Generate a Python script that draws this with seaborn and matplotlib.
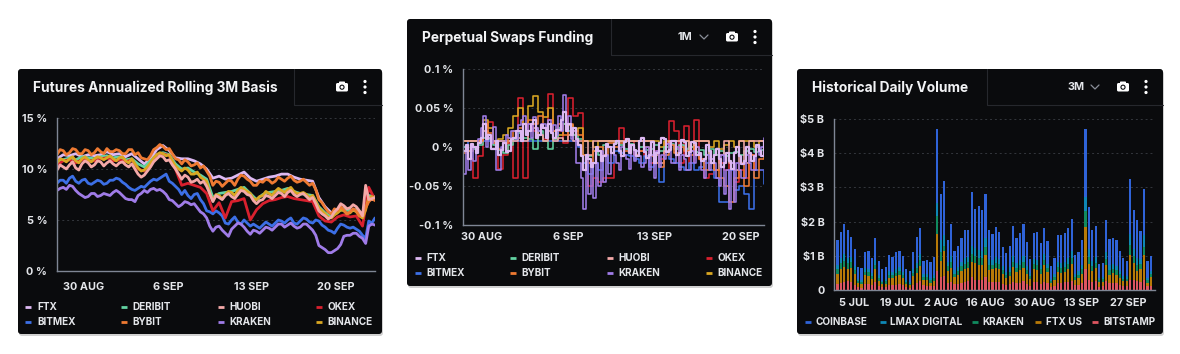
import matplotlib
matplotlib.use("Agg")
import matplotlib.pyplot as plt
import numpy as np
import pandas as pd
import seaborn as sns
from matplotlib.patches import Circle, FancyBboxPatch

WIDTH, HEIGHT = 1180, 354

PANEL = "#0A0B0D"
TEXT = "#E4E6EA"
AXIS = "#7F8694"
GRID = "#34373D"

COLORS = {
    "FTX": "#DDB9F2",
    "DERIBIT": "#62D3A2",
    "HUOBI": "#F4A9A8",
    "OKEX": "#D8202E",
    "BITMEX": "#3C6FE6",
    "BYBIT": "#EE7A32",
    "KRAKEN": "#A07CE8",
    "BINANCE": "#D9A722",
}
VOLUME_COLORS = {
    "COINBASE": "#2F63D8",
    "LMAX DIGITAL": "#0E87B5",
    "KRAKEN": "#108A5E",
    "FTX US": "#B87A08",
    "BITSTAMP": "#DD5560",
}

# Futures basis, %
basis_ftx = [
    11.0, 11.4, 11.3, 11.5, 11.2, 11.4, 11.3, 11.4, 11.7, 11.4,
    11.5, 11.2, 11.5, 11.0, 10.5, 11.0, 11.9, 12.3, 11.8, 11.1,
    11.0, 11.0, 10.8, 10.5, 10.0, 9.1, 9.3, 9.0, 9.1, 9.4,
    9.7, 9.1, 8.8, 9.0, 9.2, 9.3, 9.5, 9.5, 9.2, 9.0,
    8.9, 8.8, 7.2, 6.3, 5.7, 6.0, 6.1, 5.9, 6.0, 5.6,
    7.0, 7.0,
]
basis_deribit = [
    10.7, 10.9, 11.1, 10.9, 11.2, 11.1, 11.0, 11.2, 11.3, 11.1,
    11.2, 10.9, 11.0, 10.5, 10.2, 10.8, 11.4, 11.6, 11.4, 10.5,
    10.0, 10.1, 9.7, 9.4, 9.0, 7.2, 7.6, 7.7, 7.8, 8.0,
    8.2, 7.6, 7.0, 7.5, 7.7, 7.8, 7.9, 8.1, 7.8, 7.6,
    7.5, 7.4, 6.3, 5.7, 5.3, 5.8, 6.1, 5.9, 6.0, 5.4,
    7.4, 7.3,
]
basis_okex = [
    10.4, 10.8, 10.9, 10.6, 10.9, 10.8, 10.8, 11.0, 11.1, 10.8,
    10.9, 10.7, 10.9, 10.0, 9.8, 10.5, 11.4, 11.5, 11.3, 10.0,
    8.4, 8.6, 8.4, 8.2, 7.6, 5.9, 6.7, 5.2, 6.8, 6.9,
    7.1, 5.0, 6.0, 6.6, 6.9, 7.0, 7.2, 7.3, 7.1, 7.0,
    6.9, 6.8, 5.4, 4.9, 4.8, 5.3, 5.5, 5.3, 5.4, 4.4,
    8.2, 7.0,
]
basis_huobi = [
    9.9, 10.4, 10.2, 10.0, 10.4, 10.7, 10.1, 9.9, 10.5, 10.8,
    10.6, 10.2, 10.4, 10.8, 10.7, 10.3, 10.6, 10.8, 10.5, 10.3,
    10.6, 10.7, 10.4, 10.2, 10.5, 10.0, 9.5, 9.2, 9.4, 9.8,
    10.2, 10.7, 11.0, 11.3, 11.2, 10.8, 10.9, 10.4, 10.0, 9.5,
    9.0, 9.4, 9.2, 8.7, 8.8, 9.0, 8.6, 8.8, 8.3, 7.6,
    6.8, 7.4, 7.2, 7.0, 7.4, 7.6, 7.3, 7.1, 7.5, 7.9,
    7.8, 7.5, 7.4, 6.9, 6.6, 6.9, 7.0, 7.4, 7.3, 7.1,
    7.4, 7.7, 7.6, 7.3, 7.7, 7.9, 7.5, 7.3, 7.5, 7.6,
    7.3, 7.0, 7.2, 6.6, 5.9, 5.6, 5.4, 5.1, 5.3, 5.8,
    6.1, 6.6, 6.4, 6.1, 6.2, 6.5, 6.3, 5.9, 5.4, 8.4,
    7.0, 7.1, 7.2,
]
basis_bitmex = [
    8.6, 8.9, 8.9, 8.6, 9.1, 9.3, 8.8, 8.6, 8.9, 9.0,
    8.6, 8.5, 8.7, 8.9, 8.8, 8.5, 8.6, 8.9, 8.9, 9.1,
    9.0, 8.7, 8.5, 8.2, 8.0, 7.9, 8.1, 8.3, 8.2, 8.5,
    8.8, 9.0, 8.9, 9.1, 9.3, 9.5, 8.8, 8.6, 8.3, 8.0,
    7.5, 7.9, 7.4, 7.1, 7.5, 7.6, 7.0, 6.6, 5.9, 5.8,
    5.6, 5.9, 5.7, 5.4, 4.7, 4.6, 5.0, 5.3, 4.8, 4.6,
    5.0, 4.7, 4.4, 4.6, 4.4, 4.2, 4.5, 4.8, 4.6, 4.4,
    4.7, 5.0, 4.9, 4.7, 5.0, 5.2, 4.7, 4.6, 4.9, 5.2,
    5.1, 4.8, 4.7, 5.0, 4.9, 4.5, 4.3, 4.0, 3.9, 3.7,
    4.2, 4.6, 4.5, 4.3, 4.2, 4.3, 4.1, 3.9, 3.5, 3.2,
    4.9, 4.7, 5.2,
]
basis_bybit = [
    11.4, 11.9, 11.8, 11.4, 11.6, 12.0, 11.9, 11.5, 11.5, 11.9,
    11.8, 11.4, 11.6, 12.0, 11.7, 11.5, 12.0, 11.7, 11.7, 11.9,
    11.8, 11.5, 11.5, 11.9, 11.9, 11.4, 11.6, 11.1, 11.0, 10.9,
    11.3, 11.9, 12.1, 12.4, 12.2, 11.9, 12.0, 11.5, 11.0, 10.9,
    10.5, 10.9, 10.7, 10.3, 10.4, 10.6, 10.1, 10.3, 9.8, 9.3,
    8.4, 8.8, 8.7, 8.3, 8.6, 8.9, 8.8, 8.4, 9.0, 9.4,
    9.3, 9.0, 8.8, 8.4, 8.4, 8.8, 8.7, 9.0, 8.9, 8.6,
    8.8, 9.2, 9.0, 8.8, 9.1, 9.3, 8.9, 8.7, 8.8, 9.0,
    8.7, 8.4, 8.6, 8.0, 7.0, 6.7, 6.2, 5.8, 5.6, 6.1,
    5.9, 6.3, 6.0, 5.6, 5.8, 6.1, 5.9, 5.4, 5.5, 6.2,
    6.8, 7.1, 6.9,
]
basis_kraken = [
    7.9, 8.1, 8.2, 8.0, 8.4, 8.3, 7.9, 7.6, 7.4, 7.2,
    7.3, 7.6, 7.6, 7.3, 7.4, 7.6, 7.5, 7.4, 7.7, 7.9,
    7.7, 7.4, 7.1, 7.0, 7.0, 6.8, 7.4, 7.6, 7.9, 7.7,
    8.0, 8.1, 7.9, 8.0, 7.8, 7.5, 7.0, 6.9, 6.6, 6.3,
    6.5, 6.8, 6.7, 6.5, 6.6, 6.2, 5.8, 5.6, 5.2, 4.4,
    3.9, 4.3, 4.4, 4.0, 3.7, 3.4, 4.1, 4.4, 4.7, 4.6,
    4.3, 3.9, 3.6, 4.0, 3.9, 3.7, 4.0, 4.3, 4.2, 4.0,
    4.3, 4.6, 4.6, 4.3, 4.5, 4.7, 4.4, 4.2, 4.3, 4.6,
    4.6, 4.3, 4.0, 3.5, 2.5, 2.3, 2.1, 1.8, 1.8, 2.0,
    2.2, 2.6, 3.4, 3.5, 3.5, 3.7, 3.7, 3.4, 3.2, 2.7,
    4.4, 4.6, 4.5,
]
basis_binance = [
    10.6, 11.0, 10.9, 10.7, 11.0, 11.2, 10.8, 10.6, 11.0, 11.2,
    10.9, 10.7, 11.0, 11.2, 11.1, 10.9, 11.1, 11.3, 11.0, 10.8,
    11.1, 11.2, 10.8, 10.6, 11.0, 10.5, 10.1, 9.8, 9.9, 10.2,
    10.6, 11.1, 11.4, 11.6, 11.5, 11.3, 11.4, 10.8, 10.3, 10.0,
    9.8, 10.1, 9.9, 9.5, 9.5, 9.7, 9.2, 9.0, 8.8, 7.6,
    6.9, 7.5, 7.4, 7.1, 7.5, 7.8, 7.7, 7.4, 7.9, 8.2,
    8.0, 7.8, 7.6, 7.1, 7.0, 7.3, 7.4, 7.8, 7.6, 7.4,
    7.8, 8.1, 7.9, 7.7, 8.0, 8.2, 7.8, 7.6, 7.6, 7.7,
    7.5, 7.2, 7.4, 6.8, 6.2, 5.9, 5.6, 5.3, 5.2, 5.5,
    5.7, 6.0, 5.9, 5.6, 5.7, 6.0, 5.8, 5.4, 5.2, 6.0,
    7.2, 7.3, 7.1,
]

# Perpetual funding, %
funding_ftx = [
    -.005, .002, -.015, .004, .0, -.008, .005, .012, .03, .01,
    .015, -.002, -.002, .008, -.01, -.004, .005, -.006, -.005, .01,
    .012, .02, .02, .008, .03, .015, .02, .03, .035, .012,
    .015, .028, .025, .012, .03, .018, .012, .022, .022, .035,
    .045, .02, .03, .015, .025, .01, .002, -.012, -.03, -.01,
    -.015, -.025, -.02, .0, -.005, -.018, -.012, .004, .0, -.008,
    .004, .008, -.005, -.012, .006, .01, -.008, .002, -.004, -.012,
    .008, .011, -.006, -.014, -.01, .006, -.02, -.008, .005, .012,
    .01, -.006, -.004, .008, .008, -.01, -.008, .009, .006, -.012,
    -.006, .007, .005, -.01, -.008, -.018, -.015, .002, -.005, -.02,
    -.01, -.002, -.015, -.025, -.02, -.008, -.018, -.028, -.008, .0,
    -.012, -.022, -.018, .0, -.008, -.018, -.012, .002, -.005, -.012,
    .008,
]
funding_deribit = [
    .0, -.005, -.002, .003, .012, .01, .002, -.004, -.008, .003,
    .01, .018, .012, .01, -.002, .02, .008, -.003, .01, .025,
    .03, .02, .015, .01, -.01, -.012, -.005, -.01, .002, .0,
    .005, .003, -.002, .004, -.005, .0, -.004, -.002, .003, -.005,
    .0, .004, -.003, .002, -.002, .0, -.006, -.004, -.01, -.002,
    -.01, -.005, -.012, -.008, -.006, -.01, -.005, -.003, -.006, -.004,
    -.002,
]
funding_huobi = [
    .008, .008, .008, .008, .02, .012, .008, .008, .008, .008,
    .008, .012, .008, .02, .025, .015, .008, .02, .008, .012,
    .008, .015, .008, .008, .008, -.01, .008, .008, .008, .008,
    .008, .008, .008, .008, .008, .008, .008, .008, -.01, -.02,
    -.005, .008, .008, .008, .008, -.005, .008, .008, .008, -.015,
    -.03, -.01, .008, -.02, -.03, .008, -.02, .008, .008, .008,
    .008,
]
funding_okex = [
    -.005, -.015, -.04, -.012, .03, .032, .005, -.028, -.01, .005,
    -.04, .063, -.04, .03, .02, .015, .01, .068, .01, .02,
    .005, .063, .04, .043, -.03, -.05, -.04, -.045, -.04, -.04,
    .005, .025, .01, .008, -.01, -.005, -.012, -.02, -.005, -.015,
    .005, .033, .02, -.02, .027, -.02, .034, -.015, -.04, -.035,
    -.01, -.02, -.03, -.02, -.045, -.03, -.04, -.01, -.03, -.03,
    -.032,
]
funding_bitmex = [
    .0, .008, .008, .008, .008, .008, .008, .008, .008, .008,
    .008, .008, .008, .008, .008, .008, .008, .008, .008, .008,
    .008, .008, .008, .0, -.02, -.035, -.02, -.03, -.01, -.02,
    -.005, -.008, -.01, -.012, -.015, -.02, -.012, -.025, -.02, -.045,
    -.01, -.015, -.02, -.025, -.03, -.02, -.03, -.025, -.02, -.03,
    -.04, -.07, -.07, -.03, -.055, -.05, -.06, -.08, -.03, -.03,
    -.047,
]
funding_bybit = [
    -.008, -.005, .0, .008, .03, .018, .005, -.002, .005, .012,
    .02, .025, .03, .035, .03, .04, .025, .035, .02, .03,
    .015, .03, .02, .015, -.01, -.02, -.005, .0, -.01, .005,
    .0, .005, -.005, .003, -.01, -.005, .0, -.012, -.02, -.025,
    -.01, .003, -.008, .0, -.005, -.01, .0, -.015, -.03, -.02,
    -.03, -.04, -.05, -.07, -.04, -.02, -.05, -.01, -.04, -.015,
    -.01,
]
funding_kraken = [
    -.035, -.005, -.03, .0, -.018, .0, .01, .025, .04, .0,
    .012, .005, .026, -.03, -.03, .0, .005, .015, .012, .02,
    .02, .01, .028, .035, .04, .015, .03, .012, .038, .025,
    .02, .03, .03, .012, .035, .02, .028, .015, .04, .02,
    .067, .02, .04, .01, .02, -.02, -.02, -.04, -.08, -.01,
    -.06, -.02, -.065, -.02, -.05, -.005, -.045, -.01, -.035, .0,
    -.01, -.02, -.03, .0, -.01, -.015, -.028, .002, -.018, -.005,
    -.012, -.025, -.02, .0, -.03, -.01, -.04, -.005, -.025, -.01,
    -.015, .004, -.005, -.02, -.02, .0, -.03, -.01, -.015, -.03,
    -.03, -.005, -.02, .0, -.01, -.03, -.04, -.01, -.03, -.015,
    -.02, -.04, -.05, -.01, -.06, -.03, -.08, -.02, -.07, -.02,
    -.03, -.04, -.04, -.01, -.02, -.03, -.03, .0, -.01, .0,
    .012,
]
funding_binance = [
    .008, .008, .008, .008, .035, .025, .008, .01, .015, .025,
    .04, .05, .03, .052, .066, .045, .038, .05, .02, .015,
    .03, .028, .02, .025, .008, .008, .0, .008, .008, .008,
    .008, .008, .008, .008, .008, .008, .008, .008, .008, .0,
    .008, .008, .008, .008, .008, .0, .008, .008, .008, .0,
    .008, -.002, .002, .008, .0, .008, .008, .008, .0, .008,
    .008,
]

# Daily volume, $B
volume_total = [
    1.45, 1.7, 1.93, 1.75, 1.55, 1.2, .67, .64, 1.1, 1.13,
    .95, 1.52, .85, .6, .67, 1.03, .97, 1.1, 1.15, 1.0,
    .6, .55, 1.1, 1.55, 1.8, .85, .88, .82, .97, 4.7,
    2.8, 3.2, 1.45, 1.93, 1.13, 1.3, 1.52, 1.75, 1.75, 2.88,
    2.38, 2.47, 2.35, 2.82, 1.75, 1.63, 1.83, 1.7, 1.25, 1.08,
    1.3, 1.88, 1.53, 1.67, 1.92, 1.4, .9, 1.67, 1.7, 1.38,
    1.8, 1.42, .7, .95, 1.6, 1.6, 1.67, 1.82, 2.07, 1.02,
    1.1, 1.45, 4.72, 2.42, 1.75, 1.88, .75, .78, 2.05, 1.48,
    1.52, 1.45, 1.15, .93, .85, 3.25, 2.35, 2.05, 1.73, 2.95,
    .85, 1.0,
]
volume_bitstamp = [
    .18, .20, .23, .25, .22, .16, .08, .07, .19, .18,
    .15, .22, .13, .08, .09, .15, .14, .16, .17, .15,
    .08, .07, .14, .21, .25, .14, .13, .11, .13, .55,
    .38, .42, .20, .23, .18, .19, .20, .24, .25, .37,
    .30, .30, .28, .38, .24, .22, .23, .24, .17, .14,
    .17, .24, .20, .21, .26, .18, .13, .22, .22, .19,
    .24, .20, .09, .13, .21, .21, .22, .24, .27, .14,
    .15, .20, .60, .30, .23, .25, .10, .11, .27, .20,
    .21, .20, .16, .12, .11, .30, .30, .26, .24, .30,
    .11, .13,
]
volume_ftx_us = [
    .28, .42, .43, .35, .42, .30, .12, .10, .25, .23,
    .17, .38, .14, .09, .10, .20, .20, .24, .26, .20,
    .10, .07, .26, .28, .46, .16, .17, .10, .14, 1.10,
    .48, .73, .35, .42, .20, .25, .35, .37, .40, .45,
    .50, .42, .45, .65, .35, .38, .40, .38, .30, .20,
    .25, .43, .32, .37, .38, .28, .20, .40, .36, .29,
    .50, .32, .12, .17, .33, .29, .30, .36, .50, .16,
    .20, .27, 1.25, .47, .32, .38, .12, .13, .46, .25,
    .28, .25, .20, .13, .14, .73, .48, .30, .37, .72,
    .09, .24,
]
volume_kraken = [
    .14, .18, .20, .18, .17, .13, .06, .05, .10, .11,
    .10, .14, .08, .05, .06, .10, .10, .11, .12, .10,
    .05, .05, .10, .15, .16, .08, .08, .07, .09, .50,
    .25, .15, .14, .17, .10, .12, .14, .16, .16, .22,
    .20, .22, .20, .23, .15, .14, .16, .15, .11, .10,
    .12, .16, .13, .15, .17, .12, .08, .14, .15, .12,
    .15, .12, .06, .09, .14, .14, .15, .16, .18, .09,
    .10, .13, .45, .20, .15, .16, .07, .07, .18, .13,
    .13, .13, .10, .08, .08, .30, .20, .18, .15, .25,
    .08, .09,
]
volume_lmax = [
    .13, .15, .20, .17, .15, .12, .07, .06, .10, .10,
    .08, .14, .08, .05, .06, .10, .09, .10, .11, .09,
    .05, .05, .10, .14, .17, .08, .08, .07, .09, .40,
    .35, .30, .13, .17, .10, .12, .14, .16, .16, .25,
    .22, .22, .20, .25, .16, .15, .17, .15, .11, .10,
    .12, .17, .14, .15, .17, .13, .08, .15, .15, .13,
    .16, .13, .06, .09, .15, .15, .15, .17, .19, .09,
    .10, .13, .42, .22, .16, .17, .07, .07, .19, .14,
    .14, .13, .10, .09, .08, .32, .22, .19, .16, .33,
    .08, .09,
]

week_ticks = ["2021-08-30", "2021-09-06", "2021-09-13", "2021-09-20"]
week_labels = ["30 AUG", "6 SEP", "13 SEP", "20 SEP"]
basis_yticks = [0, 5, 10, 15]
basis_ylabels = ["0 %", "5 %", "10 %", "15 %"]
funding_yticks = [-0.1, -0.05, 0, 0.05, 0.1]
funding_ylabels = ["-0.1 %", "-0.05 %", "0 %", "0.05 %", "0.1 %"]
volume_yticks = [0, 1, 2, 3, 4, 5]
volume_ylabels = ["0", "$1 B", "$2 B", "$3 B", "$4 B", "$5 B"]
volume_tick_pos = [4.85, 17.35, 30.1, 43, 57.1, 70.9, 84.5]
volume_tick_labels = ["5 JUL", "19 JUL", "2 AUG", "16 AUG", "30 AUG", "13 SEP", "27 SEP"]


def add_axes(fig, left, top, right, bottom):
    ax = fig.add_axes([left / WIDTH, 1 - bottom / HEIGHT, (right - left) / WIDTH, (bottom - top) / HEIGHT])
    ax.set_facecolor("none")
    return ax


def style_axes(ax, xpad):
    ax.grid(False)
    ax.yaxis.grid(True, color=GRID, linewidth=0.7, linestyle=(0, (2, 3)))
    ax.set_axisbelow(True)
    sns.despine(ax=ax)
    for side in ["left", "bottom"]:
        ax.spines[side].set_color(AXIS)
        ax.spines[side].set_linewidth(1.0)
    ax.tick_params(axis="both", colors=AXIS, length=3, width=0.8, pad=4, labelsize=7.8, labelcolor=TEXT)
    ax.tick_params(axis="x", pad=xpad)
    for label in ax.get_xticklabels() + ax.get_yticklabels():
        label.set_fontweight("bold")
    ax.set_xlabel("")
    ax.set_ylabel("")


def draw_panel(bg, left, top, right, bottom, title, divider, picker=None):
    bg.add_patch(FancyBboxPatch((left + 1, top + 2), right - left, bottom - top,
                                boxstyle="round,pad=0,rounding_size=3", fc="#000000", ec="none", alpha=0.18))
    bg.add_patch(FancyBboxPatch((left, top), right - left, bottom - top,
                                boxstyle="round,pad=0,rounding_size=3", fc=PANEL, ec="none"))
    head = top + 36
    bg.plot([divider, divider, right], [top, head, head], color="#26282D", lw=0.8)
    bg.text(left + 15, top + 19, title, color="#F2F3F5", fontsize=9.9, fontweight="bold", va="center")

    cam = right - 40
    dots = right - 17
    bg.add_patch(FancyBboxPatch((cam - 6, top + 14), 12, 8.5, boxstyle="round,pad=0,rounding_size=1.5", fc="white", ec="none"))
    bg.add_patch(FancyBboxPatch((cam - 3, top + 12.5), 6, 3, boxstyle="round,pad=0,rounding_size=0.8", fc="white", ec="none"))
    bg.add_patch(Circle((cam, top + 18.2), 2.6, fc=PANEL, ec="none"))
    bg.add_patch(Circle((cam, top + 18.2), 1.5, fc="white", ec="none"))
    for offset in [12.5, 18, 23.5]:
        bg.add_patch(Circle((dots, top + offset), 1.6, fc="white", ec="none"))
    if picker:
        bg.text(right - 87, top + 18, picker, color=TEXT, fontsize=7.8, fontweight="bold", ha="center", va="center")
        bg.plot([right - 72, right - 68, right - 64], [top + 16, top + 20, top + 16], color="#8A8F99", lw=0.9)


def draw_legend(bg, entries, colors):
    for name, x, y, text_x in entries:
        bg.plot([x, x + 6], [y, y], color=colors[name], lw=2, solid_capstyle="butt")
        bg.text(text_x, y, name, color=TEXT, fontsize=7.2, fontweight="bold", va="center")


def draw_lines(ax, series, start, end, linewidth, **kwargs):
    # each exchange has its own sampling, spread over the same time span
    for name, values in series:
        times = pd.date_range(start, end, periods=len(values))
        sns.lineplot(x=times, y=values, color=COLORS[name], linewidth=linewidth,
                     errorbar=None, estimator=None, ax=ax, **kwargs)


def draw_basis(fig):
    ax = add_axes(fig, 57, 118, 375, 271)
    series = [
        ("FTX", basis_ftx), ("DERIBIT", basis_deribit), ("BITMEX", basis_bitmex), ("KRAKEN", basis_kraken),
        ("OKEX", basis_okex), ("BINANCE", basis_binance), ("BYBIT", basis_bybit), ("HUOBI", basis_huobi),
    ]
    draw_lines(ax, series, "2021-08-27 18:00", "2021-09-23 06:00", 2.0)
    ax.set_xlim(pd.Timestamp("2021-08-27 18:00"), pd.Timestamp("2021-09-23 06:00"))
    ax.set_ylim(0, 15)
    ax.set_xticks(pd.to_datetime(week_ticks))
    ax.set_xticklabels(week_labels)
    ax.set_yticks(basis_yticks)
    ax.set_yticklabels(basis_ylabels)
    style_axes(ax, 5)


def draw_funding(fig):
    ax = add_axes(fig, 463, 69, 764, 225)
    series = [
        ("OKEX", funding_okex), ("BITMEX", funding_bitmex), ("BINANCE", funding_binance), ("DERIBIT", funding_deribit),
        ("HUOBI", funding_huobi), ("BYBIT", funding_bybit), ("KRAKEN", funding_kraken),
    ]
    draw_lines(ax, series, "2021-08-28 12:00", "2021-09-21 22:00", 1.15, drawstyle="steps-post")
    draw_lines(ax, [("FTX", funding_ftx)], "2021-08-28 12:00", "2021-09-21 22:00", 1.6, drawstyle="steps-post")
    ax.set_xlim(pd.Timestamp("2021-08-28 12:00"), pd.Timestamp("2021-09-21 22:00"))
    ax.set_ylim(-0.1, 0.1)
    ax.set_xticks(pd.to_datetime(week_ticks))
    ax.set_xticklabels(week_labels)
    ax.set_yticks(funding_yticks)
    ax.set_yticklabels(funding_ylabels)
    style_axes(ax, 2)


def draw_volume(fig):
    ax = add_axes(fig, 834, 119, 1155, 290)
    bars = np.arange(len(volume_total))
    bitstamp = np.array(volume_bitstamp)
    ftx_us = bitstamp + np.array(volume_ftx_us)
    kraken = ftx_us + np.array(volume_kraken)
    lmax = kraken + np.array(volume_lmax)
    layers = [
        ("COINBASE", volume_total), ("LMAX DIGITAL", lmax), ("KRAKEN", kraken),
        ("FTX US", ftx_us), ("BITSTAMP", bitstamp),
    ]
    for name, tops in layers:
        sns.barplot(x=bars, y=tops, color=VOLUME_COLORS[name], saturation=1, width=0.66,
                    errorbar=None, linewidth=0, ax=ax)
    ax.set_xlim(-1, 92.2)
    ax.set_ylim(0, 5)
    ax.set_xticks(volume_tick_pos)
    ax.set_xticklabels(volume_tick_labels)
    ax.set_yticks(volume_yticks)
    ax.set_yticklabels(volume_ylabels)
    style_axes(ax, 3)


def main():
    sns.set_theme(style="white")
    plt.rcParams["font.family"] = ["Inter", "DejaVu Sans"]

    fig = plt.figure(figsize=(WIDTH / 100, HEIGHT / 100), dpi=100, facecolor="white")
    bg = fig.add_axes([0, 0, 1, 1])
    bg.set_xlim(0, WIDTH)
    bg.set_ylim(HEIGHT, 0)
    bg.axis("off")

    draw_panel(bg, 18, 69, 382, 334, "Futures Annualized Rolling 3M Basis", 294)
    draw_panel(bg, 407, 19, 772, 286, "Perpetual Swaps Funding", 611, "1M")
    draw_panel(bg, 797, 69, 1163, 334, "Historical Daily Volume", 987, "3M")

    draw_legend(bg, [
        ("FTX", 25, 307, 37), ("DERIBIT", 121, 307, 132), ("HUOBI", 218, 307, 229), ("OKEX", 316, 307, 327),
        ("BITMEX", 25, 322, 37), ("BYBIT", 121, 322, 132), ("KRAKEN", 218, 322, 229), ("BINANCE", 316, 322, 327),
    ], COLORS)
    draw_legend(bg, [
        ("FTX", 415, 258, 426), ("DERIBIT", 510, 258, 521), ("HUOBI", 607, 258, 618), ("OKEX", 706, 258, 717),
        ("BITMEX", 415, 273, 426), ("BYBIT", 510, 273, 521), ("KRAKEN", 607, 273, 618), ("BINANCE", 706, 273, 717),
    ], COLORS)
    draw_legend(bg, [
        ("COINBASE", 805, 322, 816), ("LMAX DIGITAL", 880, 322, 890), ("KRAKEN", 972, 322, 982),
        ("FTX US", 1035, 322, 1046), ("BITSTAMP", 1092, 322, 1103),
    ], VOLUME_COLORS)

    draw_basis(fig)
    draw_funding(fig)
    draw_volume(fig)

    fig.savefig("out.png", dpi=100)
    plt.close(fig)


if __name__ == "__main__":
    main()
